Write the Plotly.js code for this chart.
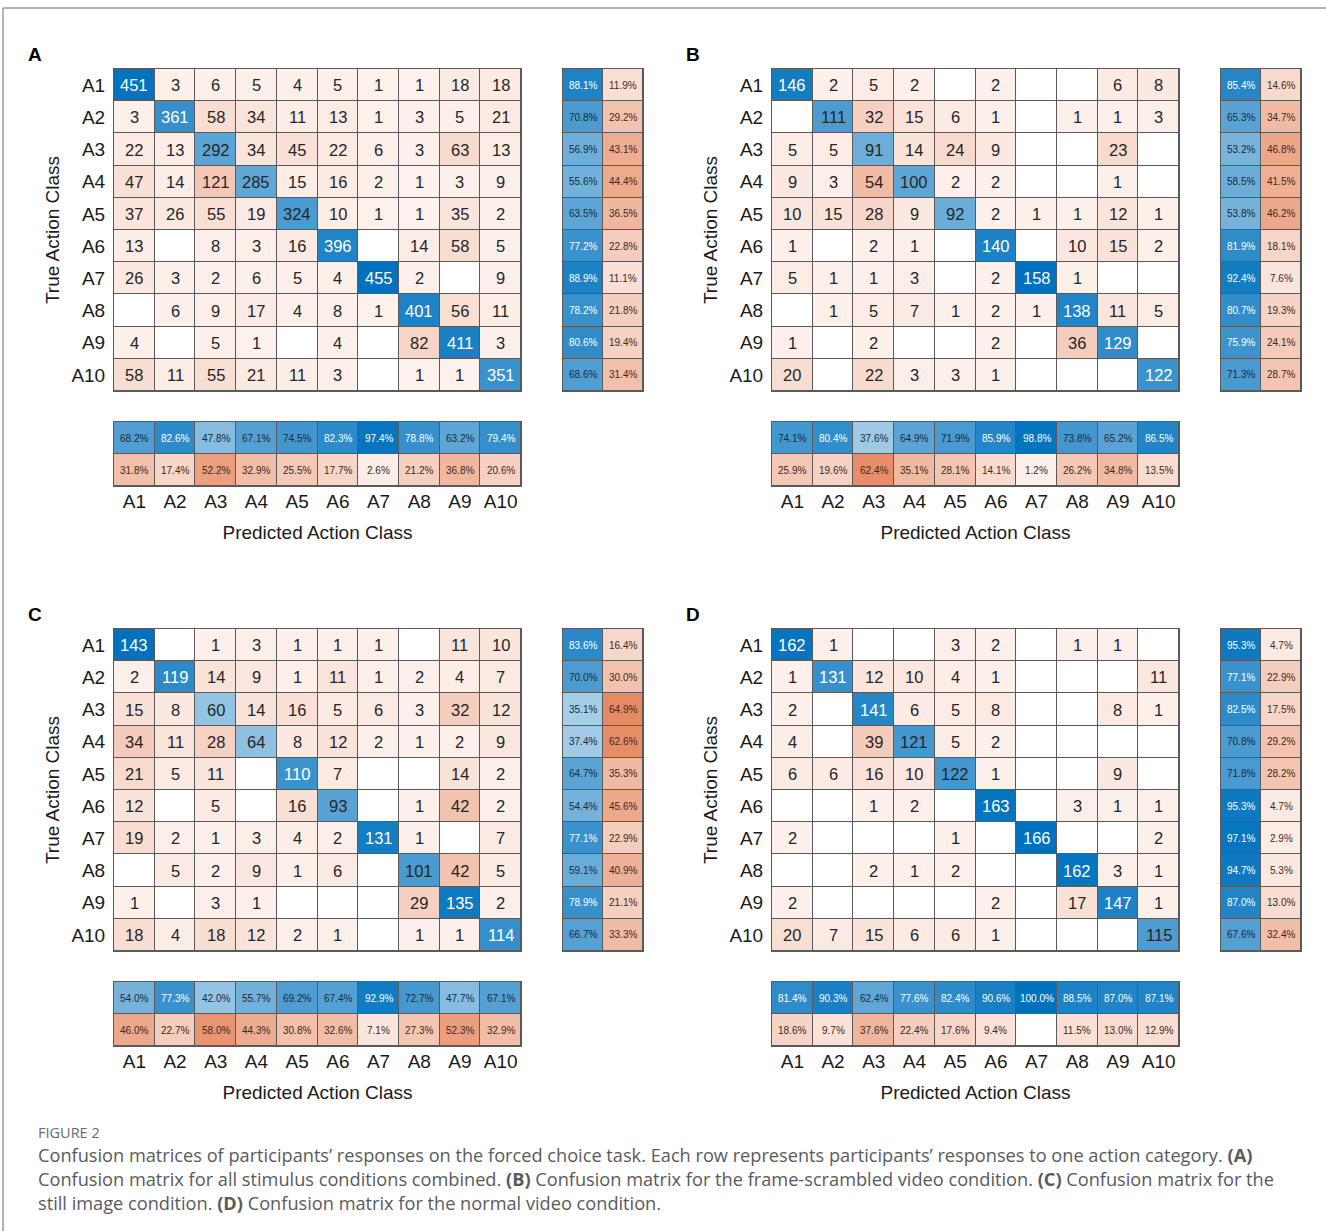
<!DOCTYPE html>
<html><head><meta charset="utf-8">
<script src="https://cdn.plot.ly/plotly-3.0.1.min.js"></script>
<style>html,body{margin:0;padding:0;background:#fff;}#chart{width:1326px;height:1231px;}</style>
</head><body><div id="chart"></div>
<script>
// ---------- data ----------
const classes = ['A1','A2','A3','A4','A5','A6','A7','A8','A9','A10'];
const panelLetters = ['A','B','C','D'];
const yTitle = 'True Action Class';
const xTitle = 'Predicted Action Class';

// Panel A: all stimulus conditions combined (rows = true class, cols = predicted)
const countsA = [
  [451,3,6,5,4,5,1,1,18,18],
  [3,361,58,34,11,13,1,3,5,21],
  [22,13,292,34,45,22,6,3,63,13],
  [47,14,121,285,15,16,2,1,3,9],
  [37,26,55,19,324,10,1,1,35,2],
  [13,0,8,3,16,396,0,14,58,5],
  [26,3,2,6,5,4,455,2,0,9],
  [0,6,9,17,4,8,1,401,56,11],
  [4,0,5,1,0,4,0,82,411,3],
  [58,11,55,21,11,3,0,1,1,351]
];
const rowCorrectA = [88.1,70.8,56.9,55.6,63.5,77.2,88.9,78.2,80.6,68.6];
const rowWrongA   = [11.9,29.2,43.1,44.4,36.5,22.8,11.1,21.8,19.4,31.4];
const colCorrectA = [68.2,82.6,47.8,67.1,74.5,82.3,97.4,78.8,63.2,79.4];
const colWrongA   = [31.8,17.4,52.2,32.9,25.5,17.7,2.6,21.2,36.8,20.6];

// Panel B: frame-scrambled video
const countsB = [
  [146,2,5,2,0,2,0,0,6,8],
  [0,111,32,15,6,1,0,1,1,3],
  [5,5,91,14,24,9,0,0,23,0],
  [9,3,54,100,2,2,0,0,1,0],
  [10,15,28,9,92,2,1,1,12,1],
  [1,0,2,1,0,140,0,10,15,2],
  [5,1,1,3,0,2,158,1,0,0],
  [0,1,5,7,1,2,1,138,11,5],
  [1,0,2,0,0,2,0,36,129,0],
  [20,0,22,3,3,1,0,0,0,122]
];
const rowCorrectB = [85.4,65.3,53.2,58.5,53.8,81.9,92.4,80.7,75.9,71.3];
const rowWrongB   = [14.6,34.7,46.8,41.5,46.2,18.1,7.6,19.3,24.1,28.7];
const colCorrectB = [74.1,80.4,37.6,64.9,71.9,85.9,98.8,73.8,65.2,86.5];
const colWrongB   = [25.9,19.6,62.4,35.1,28.1,14.1,1.2,26.2,34.8,13.5];

// Panel C: still image
const countsC = [
  [143,0,1,3,1,1,1,0,11,10],
  [2,119,14,9,1,11,1,2,4,7],
  [15,8,60,14,16,5,6,3,32,12],
  [34,11,28,64,8,12,2,1,2,9],
  [21,5,11,0,110,7,0,0,14,2],
  [12,0,5,0,16,93,0,1,42,2],
  [19,2,1,3,4,2,131,1,0,7],
  [0,5,2,9,1,6,0,101,42,5],
  [1,0,3,1,0,0,0,29,135,2],
  [18,4,18,12,2,1,0,1,1,114]
];
const rowCorrectC = [83.6,70.0,35.1,37.4,64.7,54.4,77.1,59.1,78.9,66.7];
const rowWrongC   = [16.4,30.0,64.9,62.6,35.3,45.6,22.9,40.9,21.1,33.3];
const colCorrectC = [54.0,77.3,42.0,55.7,69.2,67.4,92.9,72.7,47.7,67.1];
const colWrongC   = [46.0,22.7,58.0,44.3,30.8,32.6,7.1,27.3,52.3,32.9];

// Panel D: normal video
const countsD = [
  [162,1,0,0,3,2,0,1,1,0],
  [1,131,12,10,4,1,0,0,0,11],
  [2,0,141,6,5,8,0,0,8,1],
  [4,0,39,121,5,2,0,0,0,0],
  [6,6,16,10,122,1,0,0,9,0],
  [0,0,1,2,0,163,0,3,1,1],
  [2,0,0,0,1,0,166,0,0,2],
  [0,0,2,1,2,0,0,162,3,1],
  [2,0,0,0,0,2,0,17,147,1],
  [20,7,15,6,6,1,0,0,0,115]
];
const rowCorrectD = [95.3,77.1,82.5,70.8,71.8,95.3,97.1,94.7,87.0,67.6];
const rowWrongD   = [4.7,22.9,17.5,29.2,28.2,4.7,2.9,5.3,13.0,32.4];
const colCorrectD = [81.4,90.3,62.4,77.6,82.4,90.6,100.0,88.5,87.0,87.1];
const colWrongD   = [18.6,9.7,37.6,22.4,17.6,9.4,0,11.5,13.0,12.9];

const captionHead = 'FIGURE 2';
const captionLines = [
  'Confusion matrices of participants’ responses on the forced choice task. Each row represents participants’ responses to one action category. <b>(A)</b>',
  'Confusion matrix for all stimulus conditions combined. <b>(B)</b> Confusion matrix for the frame-scrambled video condition. <b>(C)</b> Confusion matrix for the',
  'still image condition. <b>(D)</b> Confusion matrix for the normal video condition.'
];

// ---------- layout helpers ----------
const W = 1326, H = 1231;
const PX = x => x / W;
const PY = y => 1 - y / H;
const FONT = 'Liberation Sans, Arial, Helvetica, sans-serif';
const BLUE = '#0072BD', ORANGE = '#D95319';
const GRID = '#5a5a5a';
const blueScale = [[0,'#ffffff'],[1,BLUE]];
const orangeScale = [[0,'#fdf1ec'],[1,ORANGE]];
const whiteScale = [[0,'#ffffff'],[1,'#ffffff']];

const panels = [
  {letter: panelLetters[0], counts: countsA, rc: rowCorrectA, rw: rowWrongA, cc: colCorrectA, cw: colWrongA, dx: 0,   dy: 0},
  {letter: panelLetters[1], counts: countsB, rc: rowCorrectB, rw: rowWrongB, cc: colCorrectB, cw: colWrongB, dx: 658, dy: 0},
  {letter: panelLetters[2], counts: countsC, rc: rowCorrectC, rw: rowWrongC, cc: colCorrectC, cw: colWrongC, dx: 0,   dy: 560},
  {letter: panelLetters[3], counts: countsD, rc: rowCorrectD, rw: rowWrongD, cc: colCorrectD, cw: colWrongD, dx: 658, dy: 560}
];

const data = [];
const layout = {
  width: W, height: H,
  margin: {l:0, r:0, t:0, b:0},
  paper_bgcolor: '#ffffff',
  plot_bgcolor: GRID,
  showlegend: false,
  font: {family: FONT, color: '#1a1a1a'},
  annotations: [],
  shapes: [
    {type:'line', xref:'paper', yref:'paper', x0: PX(3), x1: 1, y0: PY(8), y1: PY(8), line:{color:'#9a9a9a', width:1.5}},
    {type:'line', xref:'paper', yref:'paper', x0: PX(3), x1: PX(3), y0: PY(8), y1: 0, line:{color:'#9a9a9a', width:1.5}}
  ]
};

const idxs = n => [...Array(n).keys()];
const axName = (k, i) => i === 1 ? k : k + i;
const axKey = (k, i) => k + 'axis' + (i === 1 ? '' : i);

function baseAxis(extra) {
  return Object.assign({
    showgrid: false, zeroline: false, showline: true, mirror: true,
    linecolor: GRID, linewidth: 1, ticks: '', fixedrange: true,
    showticklabels: false
  }, extra);
}

function heat(xs, ys, z, scale, zmax, xi) {
  return {
    type: 'heatmap', x: xs, y: ys, z: z, colorscale: scale,
    zmin: 0, zmax: zmax, showscale: false, hoverinfo: 'skip',
    xgap: 1, ygap: 1, zsmooth: false,
    xaxis: axName('x', xi), yaxis: axName('y', xi)
  };
}

panels.forEach((p, pi) => {
  const mx0 = 114 + p.dx, mx1 = 521 + p.dx, my0 = 69 + p.dy, my1 = 391 + p.dy;
  const rx0 = 563 + p.dx, rx1 = 643 + p.dx;
  const cy0 = 422 + p.dy, cy1 = 486 + p.dy;
  const iM = 3*pi + 1, iR = 3*pi + 2, iC = 3*pi + 3;
  const n = classes.length;
  const ix = idxs(n);
  const maxV = Math.max(...p.counts.flat());

  // ---- main matrix ----
  layout[axKey('x', iM)] = baseAxis({domain:[PX(mx0), PX(mx1)], range:[-0.5, n-0.5], anchor: axName('y', iM)});
  layout[axKey('y', iM)] = baseAxis({
    domain:[PY(my1), PY(my0)], range:[n-0.5, -0.5], anchor: axName('x', iM),
    showticklabels: true, tickvals: ix, ticktext: classes,
    tickfont: {size: 19, family: FONT, color:'#1a1a1a'}, ticklabelstandoff: 4,
    title: {text: yTitle, font:{size: 19, family: FONT, color:'#1a1a1a'}, standoff: 6}
  });
  data.push(heat(ix, ix, p.counts.map(r => r.map(() => 0)), whiteScale, 1, iM));
  data.push(heat(ix, ix, p.counts.map((r,i) => r.map((v,j) => (i===j && v>0) ? v : null)), blueScale, maxV, iM));
  data.push(heat(ix, ix, p.counts.map((r,i) => r.map((v,j) => (i!==j && v>0) ? v : null)), orangeScale, maxV, iM));
  p.counts.forEach((r, i) => r.forEach((v, j) => {
    if (v <= 0) return;
    const diag = i === j;
    const col = diag && v / maxV >= 0.75 ? '#ffffff' : '#262626';
    layout.annotations.push({
      xref: axName('x', iM), yref: axName('y', iM), x: j, y: i, text: String(v),
      showarrow: false, font: {size: 16.5, family: FONT, color: col}
    });
  }));

  // ---- row summary (per true class) ----
  layout[axKey('x', iR)] = baseAxis({domain:[PX(rx0), PX(rx1)], range:[-0.5, 1.5], anchor: axName('y', iR)});
  layout[axKey('y', iR)] = baseAxis({domain:[PY(my1), PY(my0)], range:[n-0.5, -0.5], anchor: axName('x', iR)});
  data.push(heat([0,1], ix, ix.map(() => [0,0]), whiteScale, 1, iR));
  data.push(heat([0,1], ix, p.rc.map(v => [v>0 ? v : null, null]), blueScale, 100, iR));
  data.push(heat([0,1], ix, p.rw.map(v => [null, v>0 ? v : null]), orangeScale, 100, iR));
  ix.forEach(i => {
    [[p.rc[i], 0, true], [p.rw[i], 1, false]].forEach(([v, c, good]) => {
      if (v <= 0) return;
      layout.annotations.push({
        xref: axName('x', iR), yref: axName('y', iR), x: c, y: i, text: v.toFixed(1) + '%',
        showarrow: false,
        font: {size: 10, family: FONT, color: good ? (v >= 75 ? '#ffffff' : '#1c2a38') : '#3a2a22'}
      });
    });
  });

  // ---- column summary (per predicted class) ----
  layout[axKey('x', iC)] = baseAxis({
    domain:[PX(mx0), PX(mx1)], range:[-0.5, n-0.5], anchor: axName('y', iC),
    showticklabels: true, tickvals: ix, ticktext: classes,
    tickfont: {size: 19, family: FONT, color:'#1a1a1a'}, ticklabelstandoff: -2,
    title: {text: xTitle, font:{size: 19, family: FONT, color:'#1a1a1a'}, standoff: 14}
  });
  layout[axKey('y', iC)] = baseAxis({domain:[PY(cy1), PY(cy0)], range:[1.5, -0.5], anchor: axName('x', iC)});
  data.push(heat(ix, [0,1], [ix.map(() => 0), ix.map(() => 0)], whiteScale, 1, iC));
  data.push(heat(ix, [0,1], [p.cc.map(v => v>0 ? v : null), ix.map(() => null)], blueScale, 100, iC));
  data.push(heat(ix, [0,1], [ix.map(() => null), p.cw.map(v => v>0 ? v : null)], orangeScale, 100, iC));
  ix.forEach(j => {
    [[p.cc[j], 0, true], [p.cw[j], 1, false]].forEach(([v, r, good]) => {
      if (v <= 0) return;
      layout.annotations.push({
        xref: axName('x', iC), yref: axName('y', iC), x: j, y: r, text: v.toFixed(1) + '%',
        showarrow: false,
        font: {size: 10, family: FONT, color: good ? (v >= 75 ? '#ffffff' : '#1c2a38') : '#3a2a22'}
      });
    });
  });

  // ---- panel letter ----
  layout.annotations.push({
    xref:'paper', yref:'paper', x: PX(35 + p.dx), y: PY(55 + p.dy), text: '<b>' + p.letter + '</b>',
    showarrow:false, xanchor:'center', yanchor:'middle', font:{size: 19, family: FONT, color:'#000000'}
  });
});

// ---------- caption ----------
layout.annotations.push({
  xref:'paper', yref:'paper', x: PX(36), y: PY(1132), xanchor:'left', yanchor:'middle',
  text: captionHead, showarrow:false, font:{size: 14.5, family:'Open Sans, sans-serif', color:'#6b6b6b'}
});
captionLines.forEach((t, k) => {
  layout.annotations.push({
    xref:'paper', yref:'paper', x: PX(36), y: PY(1155 + 24*k), xanchor:'left', yanchor:'middle',
    text: t, showarrow:false, font:{size: 18.2, family:'Open Sans, sans-serif', color:'#5a5a5a'}
  });
});

Plotly.newPlot('chart', data, layout, {staticPlot: true, displayModeBar: false});
</script>
</body></html>
